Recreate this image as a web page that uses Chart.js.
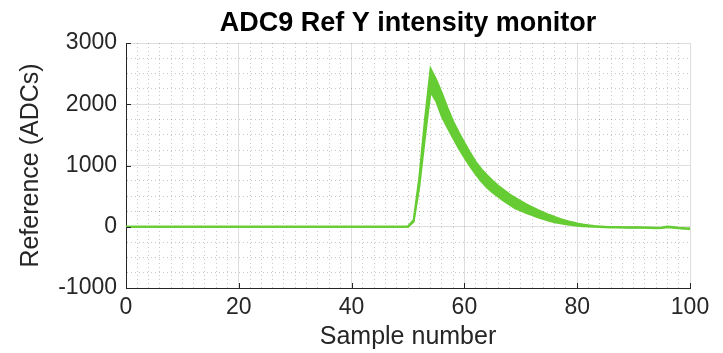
<!DOCTYPE html>
<html>
<head>
<meta charset="utf-8">
<script src="https://cdn.jsdelivr.net/npm/chart.js@4.4.1/dist/chart.umd.min.js"></script>
<style>
  html, body { margin: 0; padding: 0; background: #fff; }
  canvas { display: block; }
</style>
</head>
<body>
<canvas id="monitor" width="723" height="353"></canvas>
<script>
// upper / lower edge of the overlaid traces, one value per sample
const upperEnvelope = [
  0, 0, 0, 0, 0, 0, 0, 0, 0, 0,
  0, 0, 0, 0, 0, 0, 0, 0, 0, 0,
  0, 0, 0, 0, 0, 0, 0, 0, 0, 0,
  0, 0, 0, 0, 0, 0, 0, 0, 0, 0,
  0, 0, 0, 0, 0, 0, 0, 0, 0, 0,
  5, 110, 800, 1750, 2580, 2400, 2180, 1940, 1720, 1540,
  1370, 1210, 1060, 940, 840, 750, 670, 600, 530, 470,
  420, 365, 320, 275, 235, 195, 160, 128, 100, 76,
  55, 38, 24, 13, 5, -1, -4, -6, -7, -8,
  -9, -10, -12, -14, -18, -12, 2, -5, -15, -22,
  -25
]
const lowerEnvelope = [
  0, 0, 0, 0, 0, 0, 0, 0, 0, 0,
  0, 0, 0, 0, 0, 0, 0, 0, 0, 0,
  0, 0, 0, 0, 0, 0, 0, 0, 0, 0,
  0, 0, 0, 0, 0, 0, 0, 0, 0, 0,
  0, 0, 0, 0, 0, 0, 0, 0, 0, 0,
  0, 80, 650, 1450, 2200, 2050, 1800, 1620, 1450, 1280,
  1130, 990, 860, 740, 640, 560, 490, 420, 360, 300,
  265, 225, 190, 155, 125, 98, 75, 55, 40, 27,
  17, 9, 3, -2, -6, -10, -12, -13, -14, -15,
  -16, -16, -18, -21, -26, -22, -10, -15, -25, -32,
  -35
]
const sampleNumbers = upperEnvelope.map((_, i) => i)

const xMajorTicks = [0, 20, 40, 60, 80, 100]
const yMajorTicks = [-1000, 0, 1000, 2000, 3000]
const chartTitle = 'ADC9 Ref Y intensity monitor'

const traceColor = '#66cc33'
const axisColor = '#262626'
const font = '"Liberation Sans", Arial, Helvetica, sans-serif'

const isMajor = (value, list) => list.includes(value)

// title centred over the plot area, plus short inward ticks on left/bottom
const axesDecor = {
  id: 'axesDecor',
  afterDatasetsDraw(chart) {
    const { ctx, chartArea, scales: { x, y } } = chart
    ctx.save()
    ctx.strokeStyle = axisColor
    ctx.lineWidth = 1
    ctx.beginPath()
    xMajorTicks.forEach(v => {
      const px = Math.round(x.getPixelForValue(v)) + 0.5
      ctx.moveTo(px, chartArea.bottom)
      ctx.lineTo(px, chartArea.bottom - 5)
    })
    yMajorTicks.forEach(v => {
      const py = Math.round(y.getPixelForValue(v)) + 0.5
      ctx.moveTo(chartArea.left, py)
      ctx.lineTo(chartArea.left + 5, py)
    })
    ctx.stroke()

    ctx.fillStyle = '#000'
    ctx.font = `bold 27px ${font}`
    ctx.textAlign = 'center'
    ctx.textBaseline = 'alphabetic'
    ctx.fillText(chartTitle, (chartArea.left + chartArea.right) / 2, 31)
    ctx.restore()
  }
}

new Chart(document.getElementById('monitor'), {
  type: 'line',
  data: {
    labels: sampleNumbers,
    datasets: [
      {
        data: upperEnvelope,
        borderColor: traceColor,
        backgroundColor: traceColor,
        borderWidth: 2,
        pointRadius: 0,
        tension: 0,
        fill: '+1'
      },
      {
        data: lowerEnvelope,
        borderColor: traceColor,
        backgroundColor: traceColor,
        borderWidth: 2,
        pointRadius: 0,
        tension: 0,
        fill: false
      }
    ]
  },
  options: {
    responsive: false,
    animation: false,
    events: [],
    layout: { padding: { top: 43, right: 33, left: 0, bottom: 0 } },
    plugins: {
      legend: { display: false },
      tooltip: { enabled: false },
      title: { display: false }
    },
    scales: {
      x: {
        type: 'linear',
        min: 0,
        max: 100,
        afterFit(scale) { scale.height = 65 },
        ticks: {
          stepSize: 2,
          autoSkip: false,
          maxRotation: 0,
          padding: 6,
          color: axisColor,
          font: { family: font, size: 23 },
          callback: v => (isMajor(v, xMajorTicks) ? v : '')
        },
        grid: {
          drawTicks: false,
          color: c => (isMajor(c.tick.value, xMajorTicks) ? 'rgba(0,0,0,0.13)' : 'rgba(0,0,0,0.22)')
        },
        border: {
          color: axisColor,
          width: 1,
          dash: c => (c.tick && !isMajor(c.tick.value, xMajorTicks) ? [1, 3] : [])
        },
        title: {
          display: true,
          text: 'Sample number',
          color: axisColor,
          font: { family: font, size: 25 },
          padding: { top: 0, bottom: 1 }
        }
      },
      y: {
        min: -1000,
        max: 3000,
        afterFit(scale) { scale.width = 126 },
        ticks: {
          stepSize: 250,
          autoSkip: false,
          padding: 9,
          color: axisColor,
          font: { family: font, size: 23 },
          callback: v => (isMajor(v, yMajorTicks) ? v : '')
        },
        grid: {
          drawTicks: false,
          color: c => (isMajor(c.tick.value, yMajorTicks) ? 'rgba(0,0,0,0.13)' : 'rgba(0,0,0,0.22)')
        },
        border: {
          color: axisColor,
          width: 1,
          dash: c => (c.tick && !isMajor(c.tick.value, yMajorTicks) ? [1, 3] : [])
        },
        title: {
          display: true,
          text: 'Reference (ADCs)',
          color: axisColor,
          font: { family: font, size: 25 },
          padding: { top: 16, bottom: 0 }
        }
      }
    }
  },
  plugins: [axesDecor]
})
</script>
</body>
</html>
